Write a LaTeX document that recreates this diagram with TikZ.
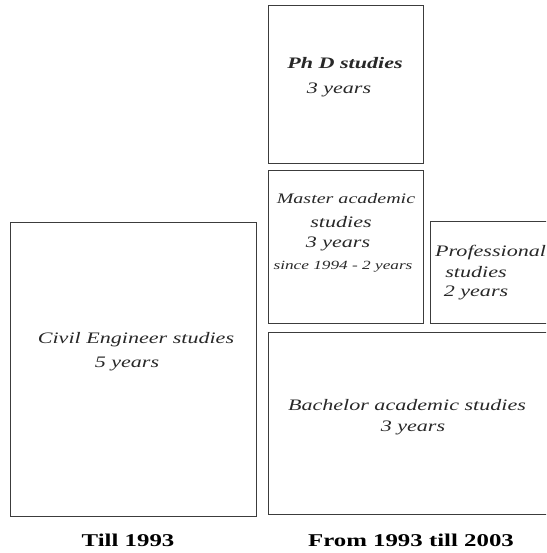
\documentclass[tikz,border=0pt]{standalone}
\usepackage{fontspec}
\setmainfont{Liberation Serif}[FakeStretch=1.38]
\usetikzlibrary{positioning}
\definecolor{cLine}{RGB}{60,60,60}
\definecolor{cText}{RGB}{40,40,40}

\begin{document}
\begin{tikzpicture}[
  x=1pt, y=-1pt,
  box/.style   = {draw=cLine, line width=0.9pt, anchor=north west, inner sep=0pt},
  txt/.style   = {align=center, font=\fontsize{16}{19}\selectfont\itshape,
                  text=cText, inner sep=0pt},
  small/.style = {font=\fontsize{12.5}{15}\selectfont\itshape, text=cText, inner sep=0pt},
  era/.style   = {font=\fontsize{18}{21}\selectfont\bfseries, inner sep=0pt}
]
\useasboundingbox (0,0) rectangle (546,553);
\clip (0,0) rectangle (546,553);

% ------------------------------------------------------------- the boxes --
\node[box, minimum width=155, minimum height=158] (phd)  at (268,5)   {};
\node[box, minimum width=155, minimum height=153] (mas)  at (268,170) {};
\node[box, minimum width=130, minimum height=102] (pro)  at (430,221) {};
\node[box, minimum width=246, minimum height=294] (civ)  at (10,222)  {};
\node[box, minimum width=290, minimum height=182] (bac)  at (268,332) {};

% ------------------------------------------------------------ the texts --
\node[txt] (phdT)  at (345,63)  {\bfseries Ph D studies};
\node[txt] (phdY)  at (339,90)  {3 years};
\node[txt, font=\fontsize{14.5}{17}\selectfont\itshape] (masT) at (346,199) {Master academic};
\node[txt] (masS)  at (341,222) {studies};
\node[txt] (masY)  at (338,244) {3 years};
\node[small] (masN) at (343,267) {since 1994 - 2 years};
\node[txt, anchor=west] (proT) at (435,253) {Professional};
\node[txt] (proS)  at (476,272) {studies};
\node[txt] (proY)  at (476,293) {2 years};
\node[txt] (civT)  at (136,340) {Civil Engineer studies};
\node[txt] (civY)  at (127,364) {5 years};
\node[txt] (bacT)  at (407,405) {Bachelor academic studies};
\node[txt] (bacY)  at (413,428) {3 years};

% ------------------------------------------------------------ the eras --
\node[era] (till) at (128,540) {Till 1993};
\node[era] (from) at (411,540) {From 1993 till 2003};

\end{tikzpicture}
\end{document}
